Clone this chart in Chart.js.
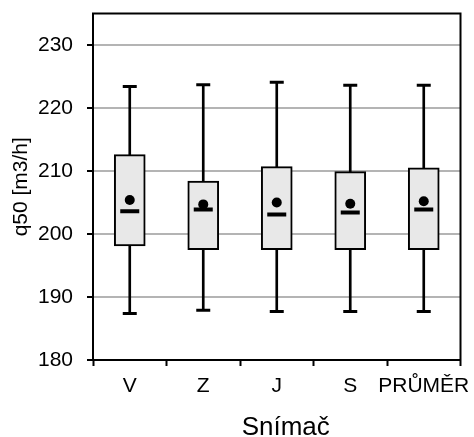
<!DOCTYPE html>
<html><head><meta charset="utf-8">
<script src="https://cdn.jsdelivr.net/npm/chart.js@4/dist/chart.umd.min.js"></script>
<style>html,body{margin:0;padding:0;background:#fff;}#wrap{width:474px;height:437px;}</style>
</head><body><div id="wrap"><canvas id="c" width="474" height="437"></canvas></div>
<script>
const categories = ['V', 'Z', 'J', 'S', 'PRŮMĚR'];
const whiskerMin = [187.4, 187.9, 187.7, 187.7, 187.7];
const q1 = [198.1, 197.5, 197.5, 197.5, 197.5];
const median = [203.6, 203.9, 203.1, 203.4, 203.9];
const q3 = [212.6, 208.4, 210.7, 209.9, 210.5];
const whiskerMax = [223.4, 223.7, 224.1, 223.6, 223.6];
const mean = [205.4, 204.7, 205.0, 204.8, 205.2];
const yTicks = [180, 190, 200, 210, 220, 230];
const xTitle = 'Snímač';
const yTitle = 'q50 [m3/h]';

const FONT = "'Liberation Sans', Arial, sans-serif";

const frame = {
  id: 'frame',
  afterDatasetsDraw(chart) {
    const a = chart.chartArea, ctx = chart.ctx;
    ctx.save();
    ctx.strokeStyle = '#000';
    ctx.lineWidth = 2;
    ctx.strokeRect(a.left, a.top, a.right - a.left, a.bottom - a.top);
    ctx.restore();
  },
  afterDraw(chart) {
    const a = chart.chartArea, ctx = chart.ctx;
    ctx.save();
    ctx.fillStyle = '#000';
    ctx.font = '26px ' + FONT;
    ctx.textAlign = 'center';
    ctx.textBaseline = 'alphabetic';
    ctx.fillText(xTitle, (a.left + a.right) / 2 + 9, 435);
    ctx.restore();
  }
};

new Chart(document.getElementById('c'), {
  type: 'bar',
  data: {
    labels: categories,
    datasets: [
      { type: 'bar', data: categories.map((_, i) => [q3[i], whiskerMax[i]]), backgroundColor: '#000', barThickness: 2, grouped: false, order: 5, borderWidth: 0 },
      { type: 'bar', data: categories.map((_, i) => [whiskerMin[i], q1[i]]), backgroundColor: '#000', barThickness: 2, grouped: false, order: 5, borderWidth: 0 },
      { type: 'bar', data: categories.map((_, i) => [q1[i], q3[i]]), backgroundColor: '#e8e8e8', borderColor: '#000', borderWidth: 2, borderSkipped: false, barThickness: 31, grouped: false, order: 4 },
      { type: 'line', data: whiskerMax, showLine: false, pointStyle: 'line', pointRadius: 7, pointBorderWidth: 3, pointBorderColor: '#000', order: 3 },
      { type: 'line', data: whiskerMin, showLine: false, pointStyle: 'line', pointRadius: 7, pointBorderWidth: 3, pointBorderColor: '#000', order: 3 },
      { type: 'line', data: median, showLine: false, pointStyle: 'line', pointRadius: 9.5, pointBorderWidth: 4, pointBorderColor: '#000', order: 2 },
      { type: 'line', data: mean, showLine: false, pointStyle: 'circle', pointRadius: 5, pointBorderWidth: 0, pointBackgroundColor: '#000', pointBorderColor: '#000', order: 1 }
    ]
  },
  options: {
    responsive: false,
    animation: false,
    events: [],
    layout: { padding: { top: 13, right: 11, left: 0, bottom: 0 } },
    plugins: { legend: { display: false }, tooltip: { enabled: false } },
    scales: {
      x: {
        type: 'category',
        offset: true,
        afterFit(axis) { axis.height = 77; axis.paddingLeft = 0; axis.paddingRight = 0; },
        grid: { offset: true, drawOnChartArea: false, drawTicks: true, tickLength: 6, tickColor: '#000', tickWidth: 2 },
        border: { color: '#000', width: 2 },
        ticks: { color: '#000', font: { family: FONT, size: 21 }, padding: 8, maxRotation: 0, autoSkip: false },
        title: { display: false }
      },
      y: {
        min: 180, max: 235,
        afterBuildTicks(axis) { axis.ticks = yTicks.map(v => ({ value: v })); },
        afterFit(axis) { axis.width = 93; axis.paddingTop = 0; axis.paddingBottom = 0; },
        grid: { color: '#b4b4b4', lineWidth: 2, drawTicks: true, tickLength: 6, tickColor: '#000', tickWidth: 2 },
        border: { color: '#000', width: 2 },
        ticks: { color: '#000', font: { family: FONT, size: 21 }, padding: 14 },
        title: { display: true, text: yTitle, color: '#000', font: { family: FONT, size: 21 }, padding: { top: 9, bottom: 0 } }
      }
    }
  },
  plugins: [frame]
});
</script></body></html>
